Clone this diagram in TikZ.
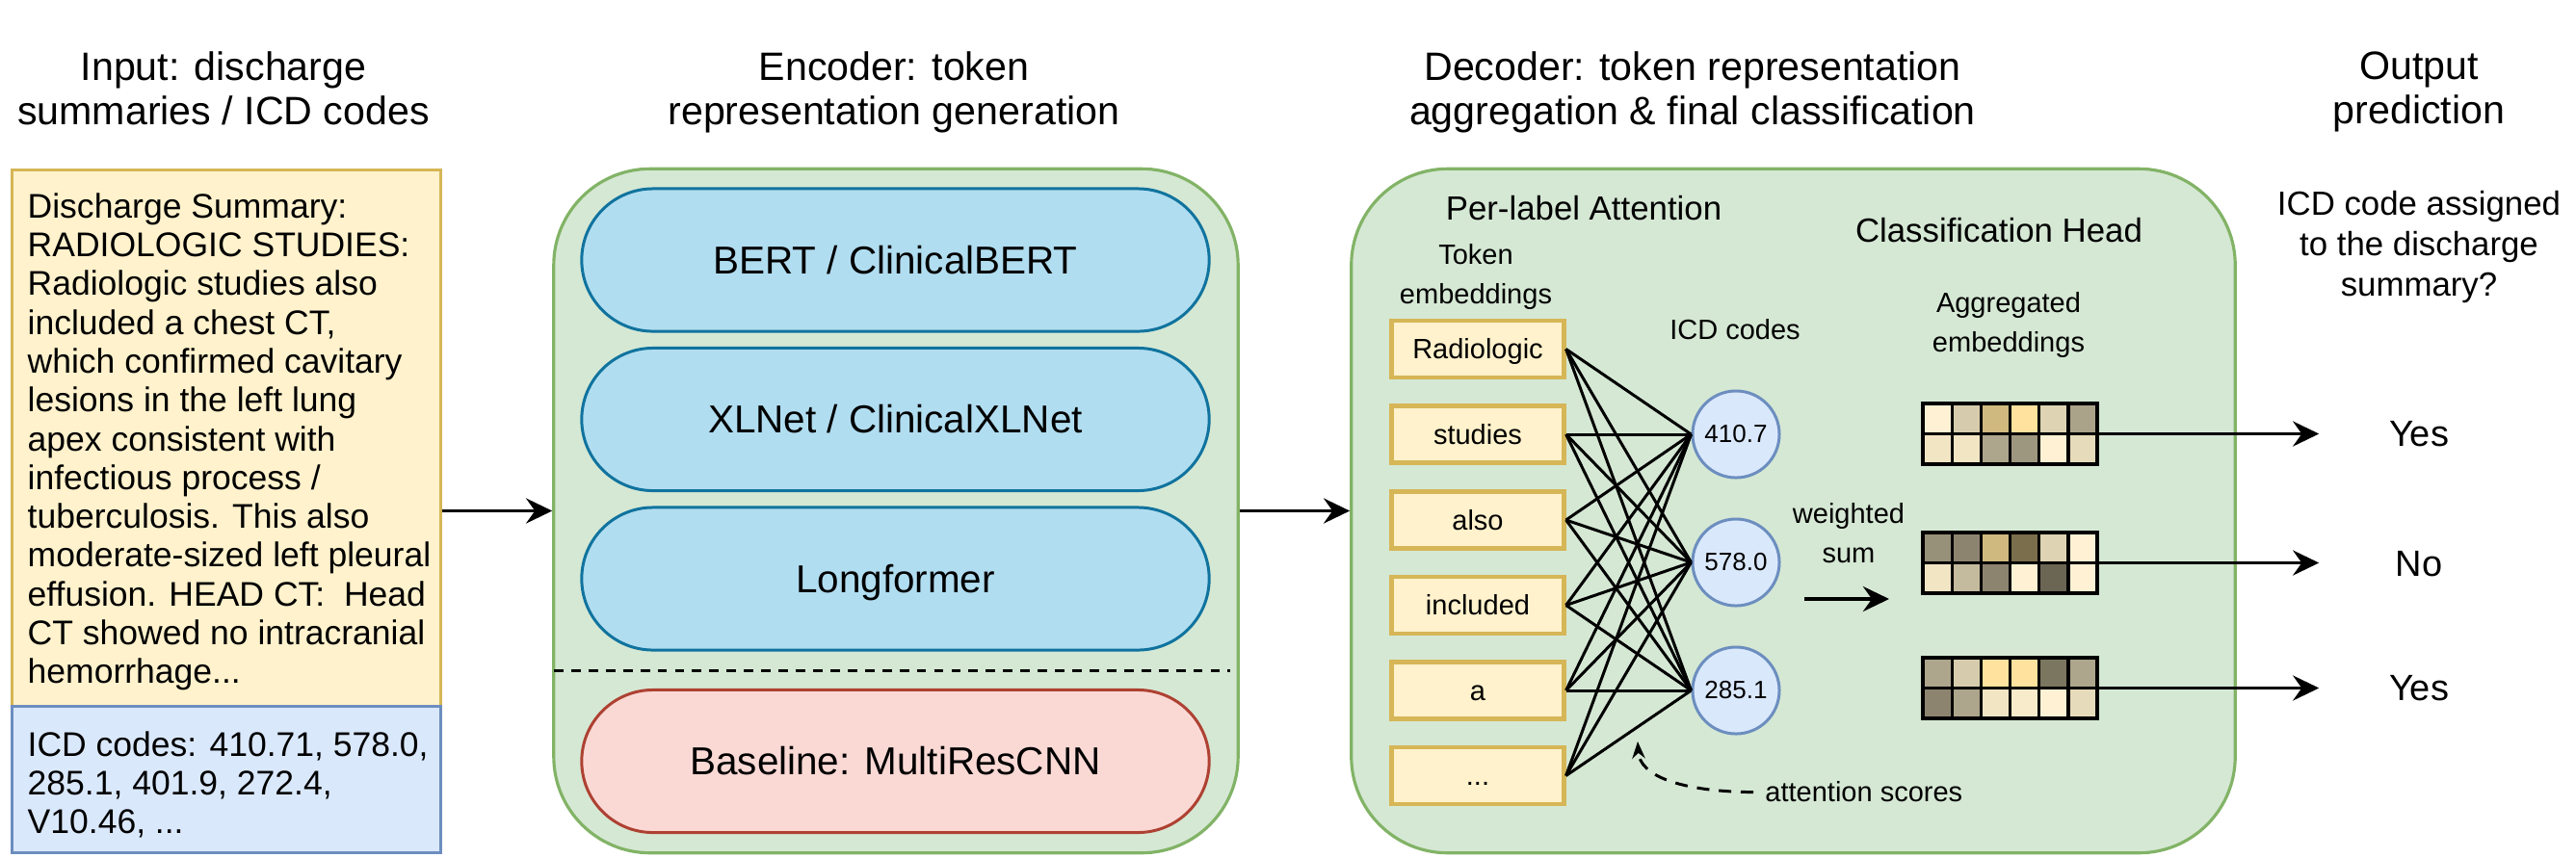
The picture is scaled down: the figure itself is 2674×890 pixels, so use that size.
\documentclass[tikz,border=0pt]{standalone}
\usepackage{fontspec}
\setmainfont{Liberation Sans}
\usetikzlibrary{arrows.meta}

\definecolor{ylwfill}{HTML}{FFF2CC}
\definecolor{ylwline}{HTML}{D6B656}
\definecolor{blufill}{HTML}{DAE8FC}
\definecolor{bluline}{HTML}{6C8EBF}
\definecolor{grnfill}{HTML}{D5E8D4}
\definecolor{grnline}{HTML}{82B366}
\definecolor{pillfill}{HTML}{B1DDF0}
\definecolor{pillline}{HTML}{10739E}
\definecolor{redfill}{HTML}{FAD9D5}
\definecolor{redline}{HTML}{AE4132}
% cell shades of the aggregated embeddings
\definecolor{ea}{HTML}{FFF2D4}
\definecolor{eb}{HTML}{D6CCAD}
\definecolor{ec}{HTML}{CFB97F}
\definecolor{ed}{HTML}{FFE29D}
\definecolor{ee}{HTML}{DED3B3}
\definecolor{ef}{HTML}{ABA28A}
\definecolor{eg}{HTML}{F1E5C4}
\definecolor{eh}{HTML}{ADA58C}
\definecolor{ei}{HTML}{9E9780}
\definecolor{ej}{HTML}{E6DBBA}
\definecolor{ek}{HTML}{979179}
\definecolor{el}{HTML}{8D8470}
\definecolor{em}{HTML}{7B6E4C}
\definecolor{en}{HTML}{C4BA9E}
\definecolor{eo}{HTML}{6B6554}
\definecolor{ep}{HTML}{7B765F}
\definecolor{eq}{HTML}{F8EBCB}

\tikzset{
	title/.style={align=center, font=\fontsize{11.7pt}{13.1pt}\selectfont},
	head/.style={font=\fontsize{9.9pt}{11.95pt}\selectfont},
	small/.style={align=center, font=\fontsize{8.25pt}{11.7pt}\selectfont},
	boxtext/.style={align=left, inner sep=0pt, font=\fontsize{10.1pt}{11.45pt}\selectfont},
	panel/.style={draw=grnline, fill=grnfill, line width=0.9pt, rounded corners=1cm},
	pill/.style={draw=pillline, fill=pillfill, line width=0.85pt, minimum width=6.51cm, minimum height=1.48cm, rounded corners=0.74cm, text height=9.2pt, text depth=1.2pt, font=\fontsize{11.5pt}{13pt}\selectfont},
	token/.style={draw=ylwline, fill=ylwfill, line width=1.3pt, minimum width=1.785cm, minimum height=0.59cm, inner sep=0pt, text height=6.6pt, text depth=0.8pt, font=\fontsize{8.25pt}{10pt}\selectfont},
	icd/.style={circle, draw=bluline, fill=blufill, line width=0.85pt, minimum size=0.9cm, inner sep=0pt, font=\fontsize{7.4pt}{9pt}\selectfont},
	gridbox/.style={draw=black, line width=1.2pt, minimum width=1.81cm, minimum height=0.63cm, inner sep=0pt},
	cell/.style={draw=black, line width=0.95pt},
	answer/.style={minimum width=2.06cm, font=\fontsize{10.8pt}{13pt}\selectfont},
	link/.style={line width=0.85pt},
	arr/.style={line width=1.1pt, -{Stealth[length=7.7pt, width=7.4pt, inset=2.6pt]}},
	sepline/.style={line width=0.85pt, dash pattern=on 2.8pt off 2.3pt},
	scorearr/.style={line width=0.85pt, dash pattern=on 3.7pt off 2.8pt, -{Stealth[length=5pt, width=3.8pt]}},
}

% one 2x6 embedding: #1 = top, #2 = the twelve shades
\newcommand\embgrid[2]{%
	\foreach \cc [count=\i from 0] in {#2} {
		\pgfmathtruncatemacro\cx{mod(\i,6)}
		\pgfmathtruncatemacro\cy{div(\i,6)}
		\draw[cell, fill=\cc] (1996+30.17*\cx, #1+31.5*\cy) rectangle ++(30.17,31.5);
	}}

\begin{document}
\begin{tikzpicture}[x=0.01cm, y=-0.01cm]
	%%%%% START %%%%%
	\useasboundingbox (0,0) rectangle (2674,890);
	
	% column titles
	\node[title, anchor=north] (tin) at (232,41) {Input: discharge\\summaries / ICD codes};
	\node[title, anchor=north] (tenc) at (928,41) {Encoder: token\\representation generation};
	\node[title, anchor=north] (tdec) at (1757,41) {Decoder: token representation\\aggregation \& final classification};
	\node[title, anchor=north] (tout) at (2511,41) {Output\\prediction};
	
	% input
	\node[draw=ylwline, fill=ylwfill, line width=0.85pt, minimum width=4.445cm, minimum height=5.57cm] (summary) at (234.75,455.5) {};
	\node[draw=bluline, fill=blufill, line width=0.85pt, minimum width=4.445cm, minimum height=1.51cm] (codes) at (234.75,809.5) {};
	\node[boxtext, anchor=north west] (sumtext) at (28,200) {Discharge Summary:\\RADIOLOGIC STUDIES:\\Radiologic studies also\\included a chest CT,\\which confirmed cavitary\\lesions in the left lung\\apex consistent with\\infectious process /\\tuberculosis. This also\\moderate-sized left pleural\\effusion. HEAD CT:~ Head\\CT showed no intracranial\\hemorrhage...};
	\node[boxtext, anchor=north west] (codetext) at (28,759) {ICD codes: 410.71, 578.0,\\285.1, 401.9, 272.4,\\V10.46, ...};
	
	% encoder
	\node[panel, minimum width=7.1cm, minimum height=7.1cm] (encoder) at (930,530.5) {};
	\node[pill] (bert) at (929.5,270) {BERT / ClinicalBERT};
	\node[pill] (xlnet) at (929.5,435.5) {XLNet / ClinicalXLNet};
	\node[pill] (longf) at (929.5,601) {Longformer};
	\draw[sepline] (575,696) -- (1277,696);
	\node[pill, draw=redline, fill=redfill] (mrcnn) at (929.5,790.5) {Baseline: MultiResCNN};
	
	\draw[arr] (summary.east |- encoder.west) -- (encoder.west);
	
	% decoder
	\node[panel, minimum width=9.17cm, minimum height=7.1cm] (decoder) at (1861.5,530.5) {};
	\draw[arr] (encoder.east) -- (decoder.west);
	
	\node[head] (perlabel) at (1644,216) {Per-label Attention};
	\node[small, anchor=north] (tokhead) at (1532,241) {Token\\embeddings};
	\node[small] (icdhead) at (1801,342) {ICD codes};
	
	\node[token] (tok1) at (1534,362.5) {Radiologic};
	\node[token] (tok2) at (1534,451) {studies};
	\node[token] (tok3) at (1534,540) {also};
	\node[token] (tok4) at (1534,628.5) {included};
	\node[token] (tok5) at (1534,717) {a};
	\node[token] (tok6) at (1534,805.5) {...};
	
	\node[icd] (c1) at (1802,451) {410.7};
	\node[icd] (c2) at (1802,584) {578.0};
	\node[icd] (c3) at (1802,717) {285.1};
	
	\foreach \t in {1,...,6}
		\foreach \c in {1,2,3}
			\draw[link] (tok\t.east) -- (c\c.west);
	
	\node[small, anchor=north] (wsum) at (1919,510) {weighted\\sum};
	\coordinate (wsa) at (1873,622);
	\coordinate (wsb) at (1961,622);
	\draw[arr] (wsa) -- (wsb);
	
	\node[small, anchor=west] (attn) at (1820,822.6) {attention scores};
	\coordinate (attntip) at (1700,770);
	\draw[scorearr] (attn.west) .. controls (1745,822) and (1702,806) .. (attntip);
	
	% classification head
	\node[head] (clshead) at (2075,239) {Classification Head};
	\node[small, anchor=north] (agghead) at (2085,291) {Aggregated\\embeddings};
	
	\embgrid{419}{ea,eb,ec,ed,ee,ef,eg,eg,eh,ei,ea,ej}
	\node[gridbox] (g1) at (2086.5,450.5) {};
	\embgrid{553}{ek,el,ec,em,ee,ea,eg,en,el,ea,eo,ea}
	\node[gridbox] (g2) at (2086.5,584.5) {};
	\embgrid{683}{eh,eb,ed,ed,ep,eh,el,eh,eg,eq,ea,ej}
	\node[gridbox] (g3) at (2086.5,714.5) {};
	
	% output
	\node[head, align=center, anchor=north] (question) at (2511,186) {ICD code assigned\\to the discharge\\summary?};
	\node[answer] (ans1) at (2511,451) {Yes};
	\node[answer] (ans2) at (2511,586) {No};
	\node[answer] (ans3) at (2511,715) {Yes};
	
	\draw[arr] (g1.east) -- (g1.east -| ans1.west);
	\draw[arr] (g2.east) -- (g2.east -| ans2.west);
	\draw[arr] (g3.east) -- (g3.east -| ans3.west);
	
	%%%%% END %%%%%
\end{tikzpicture}
\end{document}
